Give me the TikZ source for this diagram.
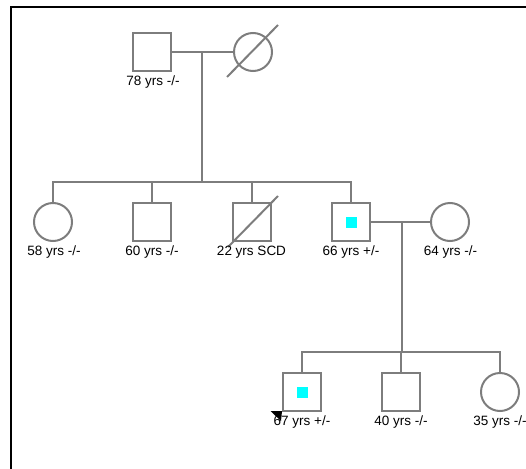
\documentclass[tikz,border=0pt]{standalone}
\usepackage{fontspec}
\setmainfont{Liberation Sans}
\definecolor{linegrey}{RGB}{125,125,125}
\definecolor{carriercyan}{RGB}{0,255,255}
\begin{document}
\begin{tikzpicture}[x=1pt,y=-1pt,
  line/.style={draw=linegrey, line width=2pt},
  male/.style={rectangle, draw=linegrey, line width=2pt, minimum size=38pt, inner sep=0pt},
  female/.style={circle, draw=linegrey, line width=2pt, minimum size=38pt, inner sep=0pt},
  carrier/.style={path picture={\fill[carriercyan] ([shift={(-5.5pt,-5.5pt)}]path picture bounding box.center) rectangle ([shift={(5.5pt,5.5pt)}]path picture bounding box.center);}},
  deceased/.style={draw=linegrey, line width=2pt},
  lbl/.style={font=\fontsize{13.5}{15}\selectfont, inner sep=0pt, text=black},
]
\useasboundingbox (0,0) rectangle (526,468);
\clip (0,0) rectangle (526,468);

% frame
\draw[black, line width=2pt] (11,469) -- (11,7) -- (527,7);

% generation I
\node[male] (gf) at (152,52) {};
\node[female] (gm) at (253,52) {};
\draw[deceased] ([shift={(-26,25)}]gm.center) -- ([shift={(25,-27)}]gm.center);
\node[lbl] (gf-l) at (153,82.5) {78 yrs -/-};
\draw[line] (gf) -- (gm);
\coordinate (m1) at (202,52);
\coordinate (s1) at (202,182);
\draw[line] (m1) -- (s1);

% generation II
\node[female] (c1) at (53,222) {};
\node[male] (c2) at (152,222) {};
\node[male] (c3) at (252,222) {};
\node[male, carrier] (c4) at (351,222) {};
\node[female] (sp) at (450,222) {};
\draw[deceased] ([shift={(-24,25)}]c3.center) -- ([shift={(26,-26)}]c3.center);
\draw[line] (c1.north) -- (c1.north |- s1) -- (c4.north |- s1) -- (c4.north);
\draw[line] (c2.north) -- (c2.north |- s1);
\draw[line] (c3.north) -- (c3.north |- s1);
\draw[line] (c4) -- (sp);
\coordinate (m2) at (402,222);
\coordinate (s2) at (402,352);
\draw[line] (m2) -- (s2);

% generation III
\node[male, carrier] (d1) at (302,392) {};
\node[male] (d2) at (401,392) {};
\node[female] (d3) at (500,392) {};
\draw[line] (d1.north) -- (d1.north |- s2) -- (d3.north |- s2) -- (d3.north);
\draw[line] (d2.north) -- (d2.north |- s2);

% proband arrow head at the lower left corner
\fill[black] ([shift={(-11.5,-1)}]d1.south west) -- ([shift={(0,-1)}]d1.south west) -- ([shift={(-1,9)}]d1.south west) -- cycle;

% labels
\node[lbl] (c1-l) at (54,252.5) {58 yrs -/-};
\node[lbl] (c2-l) at (152,252.5) {60 yrs -/-};
\node[lbl] (c3-l) at (251.5,252.5) {22 yrs SCD};
\node[lbl] (c4-l) at (351,252.5) {66 yrs +/-};
\node[lbl] (sp-l) at (450.5,252.5) {64 yrs -/-};
\node[lbl] (d1-l) at (302,422.5) {67 yrs +/-};
\node[lbl] (d2-l) at (401,422.5) {40 yrs -/-};
\node[lbl] (d3-l) at (500,422.5) {35 yrs -/-};
\end{tikzpicture}
\end{document}
